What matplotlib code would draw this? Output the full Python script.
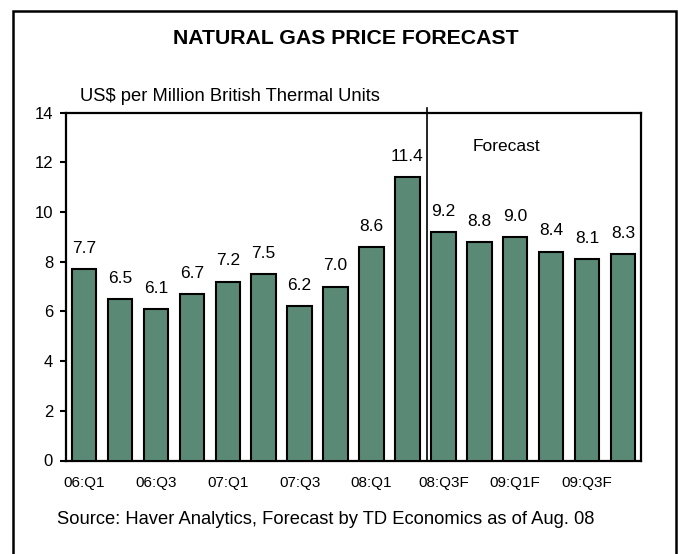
import matplotlib
matplotlib.use("Agg")
import matplotlib.pyplot as plt
from matplotlib.patches import Rectangle

# quarterly natural gas price, US$/MMBtu (last 6 are forecast)
quarters = ["06:Q1", "06:Q2", "06:Q3", "06:Q4", "07:Q1", "07:Q2", "07:Q3", "07:Q4",
            "08:Q1", "08:Q2", "08:Q3F", "08:Q4F", "09:Q1F", "09:Q2F", "09:Q3F", "09:Q4F"]
prices = [7.7, 6.5, 6.1, 6.7, 7.2, 7.5, 6.2, 7.0, 8.6, 11.4, 9.2, 8.8, 9.0, 8.4, 8.1, 8.3]
yticks = [0, 2, 4, 6, 8, 10, 12, 14]
forecast_split = 9.54

BAR = "#5a8a76"
plt.rcParams["font.family"] = ["Liberation Sans", "DejaVu Sans"]

fig = plt.figure(figsize=(6.78, 5.54), dpi=100)
fig.patch.set_facecolor("white")
ax = fig.add_axes([66/678, 1-460.5/554, (641-66)/678, (460.5-112.7)/554])

xs = list(range(len(prices)))
ax.bar(xs, prices, width=0.68, color=BAR, edgecolor="black", linewidth=1.5, zorder=3)
for x, v in zip(xs, prices):
    ax.annotate(f"{v:.1f}", (x, v), xytext=(0, 15), textcoords="offset points",
                ha="center", va="center", fontsize=12.5)

ax.plot([forecast_split, forecast_split], [0, 14.19], color="black", lw=1.2,
        clip_on=False, zorder=4)
ax.text(11.76, 12.63, "Forecast", ha="center", va="center", fontsize=12.5)

ax.set_xlim(-0.5, 15.5)
ax.set_ylim(0, 14)
ax.set_yticks(yticks)
ax.set_xticks(xs[::2])
ax.set_xticklabels(quarters[::2], fontsize=11)
ax.tick_params(axis="x", length=0, pad=11)
ax.tick_params(axis="y", length=4.3, width=1.5, direction="out", labelsize=12, pad=5)
for sp in ax.spines.values():
    sp.set_linewidth(1.6)

fig.text(345.5/678, 1-38/554, "NATURAL GAS PRICE FORECAST", ha="center", va="center",
         fontsize=15.3, fontweight="bold")
fig.text(80/678, 1-96.7/554, "US$ per Million British Thermal Units", ha="left",
         va="center", fontsize=13.2)
fig.text(57/678, 1-520/554, "Source: Haver Analytics, Forecast by TD Economics as of Aug. 08",
         ha="left", va="center", fontsize=13.2)

# outer frame, bottom edge falls just below the image
fig.patches.append(Rectangle((13/678, 1-558/554), (676-13)/678, (558-10.5)/554,
                             transform=fig.transFigure, fill=False, edgecolor="black",
                             linewidth=1.8, clip_on=False))

fig.savefig("out.png", dpi=100, facecolor="white")
